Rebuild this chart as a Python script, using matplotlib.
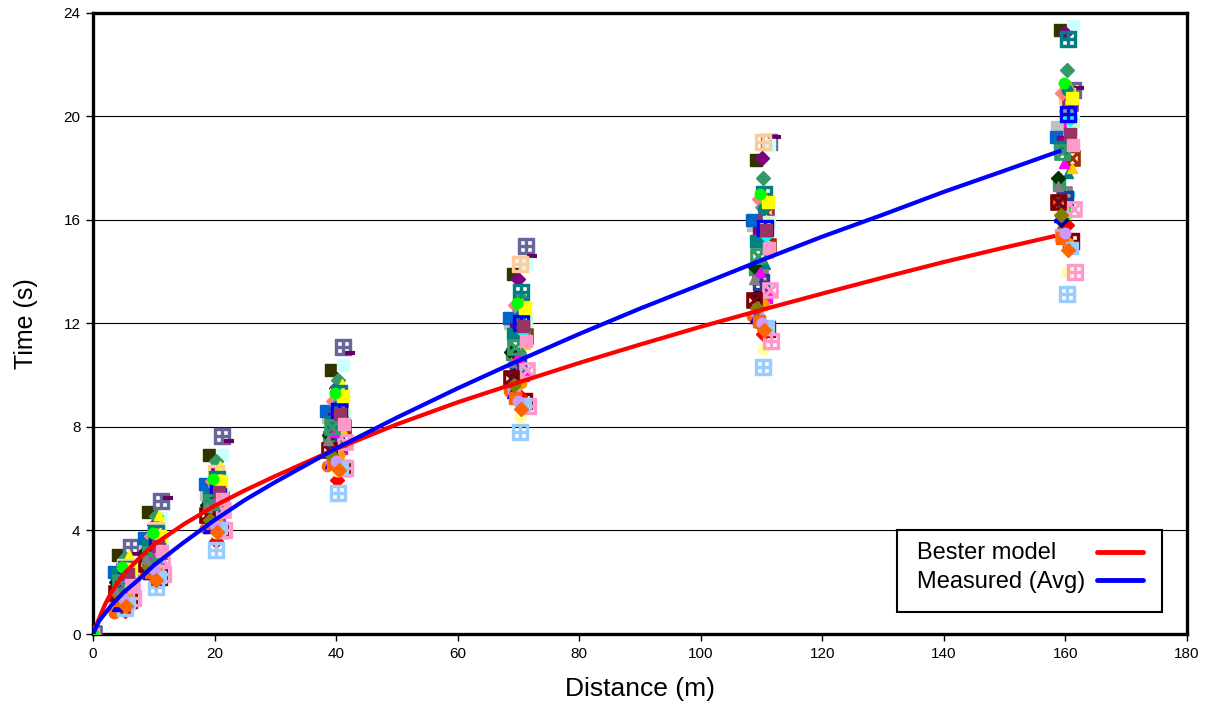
import matplotlib
matplotlib.use('Agg')
import matplotlib.pyplot as plt
from matplotlib.patches import Rectangle
import numpy as np

plt.rcParams['font.family'] = ['Liberation Sans', 'DejaVu Sans']

# measuring points (m)
dist = [0, 5, 10, 20, 40, 70, 110, 160]

# split times (s) per runner, one list per distance
t5 = [3.05, 3.37, 3.10, 2.80, 2.70, 2.95, 3.05, 2.60, 2.50, 1.18, 2.38, 1.60, 2.20, 1.90, 1.70, 1.50, 0.80, 1.40, 1.30, 0.90,
      1.00, 1.30, 1.40, 2.00, 2.30, 1.80, 1.60, 2.10, 2.40, 1.90, 1.20, 2.20, 1.70, 2.50, 1.50, 1.10, 2.00, 2.30, 1.90, 2.60,
      1.30, 2.10, 1.60, 2.40, 1.20, 1.80, 2.20, 1.50, 2.50, 1.40, 2.00, 2.30, 1.70, 1.10, 1.90, 2.60]
t10 = [4.70, 5.15, 5.25, 4.50, 4.20, 4.55, 4.60, 4.00, 3.90, 3.50, 3.70, 2.90, 3.40, 3.10, 2.80, 2.60, 2.30, 2.50, 2.20, 2.02,
       1.83, 2.20, 2.30, 3.20, 3.60, 3.00, 2.70, 3.30, 3.80, 3.00, 2.40, 3.50, 2.80, 3.70, 2.60, 2.30, 3.20, 3.40, 2.90, 3.90,
       2.40, 3.30, 2.70, 3.60, 2.20, 3.00, 3.50, 2.60, 3.80, 2.50, 3.10, 3.40, 2.90, 2.10, 3.20, 3.90]
t20 = [6.90, 7.65, 7.45, 6.90, 6.40, 6.70, 6.50, 6.20, 6.00, 5.40, 5.80, 4.60, 5.30, 5.00, 4.60, 4.30, 4.10, 4.30, 4.00, 3.60,
       3.25, 3.90, 4.00, 5.20, 5.60, 4.80, 4.50, 5.10, 5.90, 4.90, 4.20, 5.50, 4.70, 5.70, 4.40, 4.10, 5.00, 5.30, 4.80, 6.00,
       4.30, 5.40, 4.60, 5.80, 4.10, 5.00, 5.60, 4.40, 5.90, 4.20, 5.10, 5.50, 4.90, 3.95, 5.20, 6.00]
t40 = [10.20, 11.10, 10.85, 10.40, 9.50, 9.80, 9.65, 9.20, 9.30, 8.40, 8.60, 7.20, 8.30, 7.80, 7.20, 6.80, 6.50, 6.80, 6.40, 5.95,
       5.45, 6.30, 6.40, 8.00, 8.70, 7.50, 7.00, 7.90, 9.00, 7.60, 6.60, 8.50, 7.30, 8.90, 6.90, 6.60, 7.70, 8.20, 7.40, 9.10,
       6.60, 8.40, 7.10, 8.80, 6.40, 7.80, 8.60, 6.90, 9.20, 6.70, 8.00, 8.50, 7.50, 6.35, 8.10, 9.30]
t70 = [13.90, 15.00, 14.60, 14.30, 13.70, 13.00, 12.60, 14.30, 13.20, 12.00, 12.20, 10.00, 11.80, 11.00, 10.30, 9.80, 9.40, 9.20, 9.00, 9.20,
       7.80, 8.40, 8.80, 11.50, 12.40, 10.60, 10.00, 11.20, 12.70, 10.80, 9.50, 12.10, 10.40, 12.50, 9.70, 9.30, 10.90, 11.60, 10.20, 12.80,
       9.10, 11.70, 9.90, 12.30, 8.90, 10.70, 12.00, 9.60, 12.60, 9.00, 11.10, 11.90, 10.50, 8.70, 11.30, 12.80]
t110 = [18.30, 19.00, 19.20, 18.90, 18.40, 17.60, 16.50, 19.00, 17.00, 15.80, 16.00, 13.00, 15.50, 14.30, 13.50, 12.80, 12.30, 12.00, 11.80, 11.60,
        10.30, 11.00, 11.30, 15.00, 16.30, 13.80, 13.10, 14.70, 16.80, 14.10, 12.50, 15.90, 13.60, 16.50, 12.70, 12.20, 14.20, 15.20, 13.30, 16.90,
        12.10, 15.40, 12.90, 16.40, 11.90, 14.00, 15.70, 12.60, 16.70, 12.00, 14.60, 15.60, 13.70, 11.75, 14.90, 17.00]
t160 = [23.35, 21.00, 21.10, 23.50, 23.20, 21.80, 20.30, 20.80, 22.97, 19.60, 19.20, 19.50, 19.00, 17.80, 17.00, 16.30, 16.60, 15.60, 15.20, 15.80,
        13.15, 14.00, 14.00, 18.40, 20.50, 17.00, 16.00, 18.00, 20.90, 17.40, 15.40, 19.80, 16.80, 20.20, 15.10, 16.10, 17.60, 18.80, 16.40, 21.20,
        15.30, 19.90, 16.70, 21.00, 14.90, 18.20, 20.10, 16.20, 20.70, 15.50, 18.60, 19.30, 17.30, 14.85, 18.90, 21.30]

# model curves
model_d = [0, 1, 2, 3, 5, 7.5, 10, 15, 20, 25, 30, 40, 50, 60, 70, 80, 90, 100, 110, 120, 130, 140, 150, 158]
bester_t = [0, 0.60, 1.15, 1.60, 2.30, 2.90, 3.45, 4.25, 4.95, 5.55, 6.10, 7.15, 8.10, 8.95, 9.72, 10.47, 11.18, 11.87, 12.52,
            13.15, 13.77, 14.37, 14.93, 15.36]
avg_d = [0, 1, 2, 3, 5, 7.5, 10, 15, 20, 25, 30, 40, 50, 60, 70, 80, 90, 100, 110, 120, 130, 140, 150, 159]
avg_t = [0, 0.50, 0.80, 1.10, 1.60, 2.10, 2.65, 3.55, 4.40, 5.18, 5.87, 7.17, 8.36, 9.49, 10.56, 11.59, 12.57, 13.50, 14.44,
         15.35, 16.20, 17.08, 17.90, 18.65]

# marker style and small sideways shift (m) for each runner so they don't hide each other
bp = r'$\boxplus$'
bx = r'$\boxtimes$'
styles = [('s', '#333300'), (bp, '#666699'), ('_', '#660066'), ('s', '#CCFFFF'), ('D', '#800080'),
          ('D', '#339966'), ('^', '#FFFF00'), (bp, '#FFCC99'), (bp, '#008080'), ('s', '#C0C0C0'),
          ('s', '#0066CC'), ('s', '#FF00FF'), ('s', '#800080'), ('^', '#008080'), ('o', '#00FFFF'),
          ('s', '#00FF00'), ('o', '#FF6600'), ('o', '#808000'), (bp, '#800000'), ('D', '#FF0000'),
          (bp, '#99CCFF'), ('o', '#FFFF99'), (bp, '#FF99CC'), (bx, '#993300'), (bx, '#993366'),
          (bx, '#808080'), ('D', '#000080'), ('^', '#FFCC00'), ('D', '#FF8080'), ('s', '#339966'),
          ('s', '#CC99FF'), ('s', '#CCFFCC'), (bp, '#333399'), ('D', '#969696'), ('o', '#FF9900'),
          ('^', '#0000FF'), ('D', '#003300'), ('s', '#008080'), (bx, '#FF99CC'), ('^', '#99CC00'),
          ('s', '#FF6600'), ('D', '#00FFFF'), (bx, '#800000'), ('o', '#008080'), ('s', '#99CCFF'),
          ('^', '#FF00FF'), (bp, '#0000FF'), ('D', '#808000'), ('s', '#FFFF00'), ('o', '#CC99FF'),
          (bx, '#339966'), ('s', '#993366'), ('^', '#808080'), ('D', '#FF6600'), ('s', '#FF99CC'), ('o', '#00FF00')]
shift = [-0.9, 1.2, 2.3, 1.2, 0.0, 0.3, 0.9, 0.3, 0.4, -1.4, -1.6, 0.8, -0.4, 0.5, 0.6, -0.2, -1.5, -0.6, 0.9, 0.2,
         0.3, 0.2, 1.5, 1.1, 0.7, -0.3, -0.8, 1.0, -0.5, -1.1, -0.7, 1.3, -0.1, 0.1, 0.4, -1.0, -1.2, -0.9, 1.4, 0.6,
         -0.5, 0.8, -1.2, 0.2, 1.0, -0.3, 0.5, -0.8, 1.1, 0.0, -0.6, 0.7, -1.3, 0.4, 1.3, -0.2]

fig = plt.figure(figsize=(12.1, 7.11), dpi=100)
ax = fig.add_axes([93/1210, 1-634/711, 1094/1210, 621.3/711])

times = np.array([t5, t10, t20, t40, t70, t110, t160]).T
for i, (m, c) in enumerate(styles):
    xs = np.array(dist, dtype=float) + shift[i]
    xs[0] = 0
    ys = np.concatenate([[0], times[i]])
    if m in (bp, bx):
        ax.plot(xs, ys, ls='none', marker=m, color=c, ms=11, zorder=3)
    elif m == '_':
        ax.plot(xs, ys, ls='none', marker=m, color=c, ms=7, mew=3, zorder=3)
    else:
        ax.plot(xs, ys, ls='none', marker=m, color=c, mec=c, ms=8 if m == 's' else 7.5, zorder=3)

ax.plot(model_d, bester_t, color='#FF0000', lw=3, zorder=5)
ax.plot(avg_d, avg_t, color='#0000FF', lw=3, zorder=5)

ax.set_xlim(0, 180)
ax.set_ylim(0, 24)
ax.set_xticks(np.arange(0, 181, 20))
ax.set_yticks(np.arange(0, 25, 4))
ax.yaxis.grid(True, color='black', lw=0.8)
ax.set_axisbelow(True)
for s in ax.spines.values():
    s.set_linewidth(2.4)
ax.tick_params(direction='out', length=5, width=1, labelsize=11, pad=4)

ax.set_xlabel('Distance (m)', fontsize=19, labelpad=12)
ax.set_ylabel('Time (s)', fontsize=18, labelpad=18)

# legend box: text on the left, line samples on the right
ax.add_patch(Rectangle((0.735, 0.0354), 0.242, 0.132, transform=ax.transAxes, facecolor='white',
                       edgecolor='black', lw=1.5, zorder=6))
ax.text(0.753, 0.130, 'Bester model', transform=ax.transAxes, fontsize=17, va='center', ha='left', zorder=7)
ax.text(0.753, 0.084, 'Measured (Avg)', transform=ax.transAxes, fontsize=17, va='center', ha='left', zorder=7)
ax.plot([0.918, 0.960], [0.132, 0.132], transform=ax.transAxes, color='#FF0000', lw=3.5,
        solid_capstyle='round', zorder=7)
ax.plot([0.918, 0.960], [0.087, 0.087], transform=ax.transAxes, color='#0000FF', lw=3.5,
        solid_capstyle='round', zorder=7)

fig.savefig('out.png', dpi=100)
